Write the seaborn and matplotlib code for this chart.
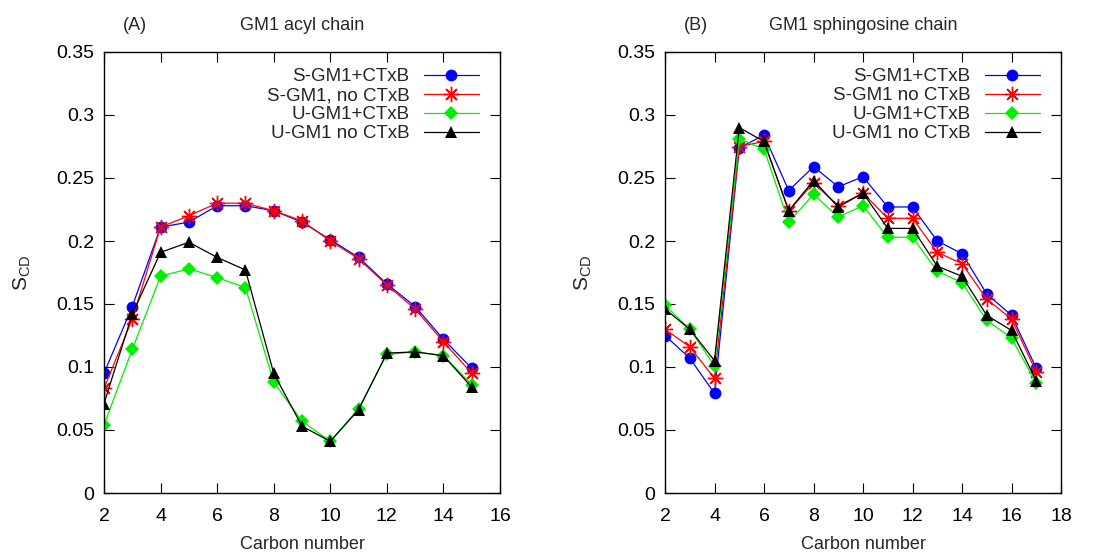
import numpy as np
import pandas as pd
import matplotlib
matplotlib.use("Agg")
import matplotlib.pyplot as plt
import seaborn as sns
from matplotlib.ticker import MultipleLocator, FuncFormatter

sns.set_theme(style="ticks")
plt.rcParams['font.family'] = ['Liberation Sans', 'DejaVu Sans']
plt.rcParams['mathtext.fontset'] = 'custom'
plt.rcParams['mathtext.rm'] = 'Liberation Sans'
plt.rcParams['mathtext.it'] = 'Liberation Sans'

# Panel A: GM1 acyl chain
acyl_carbon = [2, 3, 4, 5, 6, 7, 8, 9, 10, 11, 12, 13, 14, 15]
acyl_s_ctxb = [0.095, 0.148, 0.211, 0.215, 0.228, 0.228, 0.224, 0.215, 0.201, 0.187, 0.166, 0.148, 0.122, 0.099]
acyl_s_free = [0.083, 0.138, 0.211, 0.220, 0.230, 0.230, 0.224, 0.216, 0.200, 0.186, 0.165, 0.146, 0.120, 0.095]
acyl_u_ctxb = [0.054, 0.114, 0.172, 0.178, 0.171, 0.163, 0.088, 0.057, 0.041, 0.067, 0.110, 0.112, 0.109, 0.086]
acyl_u_free = [0.071, 0.142, 0.191, 0.199, 0.187, 0.177, 0.095, 0.053, 0.041, 0.066, 0.111, 0.112, 0.109, 0.084]

# Panel B: GM1 sphingosine chain
sph_carbon = [2, 3, 4, 5, 6, 7, 8, 9, 10, 11, 12, 13, 14, 15, 16, 17]
sph_s_ctxb = [0.125, 0.107, 0.079, 0.274, 0.284, 0.240, 0.259, 0.243, 0.251, 0.227, 0.227, 0.200, 0.190, 0.158, 0.141, 0.099]
sph_s_free = [0.130, 0.116, 0.091, 0.275, 0.279, 0.224, 0.246, 0.228, 0.238, 0.218, 0.218, 0.191, 0.182, 0.154, 0.138, 0.096]
sph_u_ctxb = [0.149, 0.130, 0.101, 0.281, 0.273, 0.215, 0.237, 0.219, 0.228, 0.203, 0.203, 0.176, 0.167, 0.137, 0.123, 0.087]
sph_u_free = [0.146, 0.130, 0.105, 0.290, 0.279, 0.224, 0.248, 0.227, 0.238, 0.210, 0.210, 0.180, 0.172, 0.141, 0.129, 0.089]

labels_a = ["S-GM1+CTxB", "S-GM1, no CTxB", "U-GM1+CTxB", "U-GM1 no CTxB"]
labels_b = ["S-GM1+CTxB", "S-GM1 no CTxB", "U-GM1+CTxB", "U-GM1 no CTxB"]

styles = [
    dict(color="#0000ff", marker="o", markersize=8.5, markeredgewidth=0),
    dict(color="#ff0000", marker=(8, 2, 0), markersize=11, markeredgewidth=1.0),
    dict(color="#00ee00", marker="D", markersize=7, markeredgewidth=0),
    dict(color="#000000", marker="^", markersize=8.5, markeredgewidth=0),
]

panels = [
    ("(A)", "GM1 acyl chain", acyl_carbon, [acyl_s_ctxb, acyl_s_free, acyl_u_ctxb, acyl_u_free], labels_a, 16),
    ("(B)", "GM1 sphingosine chain", sph_carbon, [sph_s_ctxb, sph_s_free, sph_u_ctxb, sph_u_free], labels_b, 18),
]

fig = plt.figure(figsize=(11.06, 5.52), dpi=100)
lefts = [104 / 1106, 665 / 1106]
w = 396 / 1106
b = 1 - 493 / 552
h = 441 / 552

for i, (tag, title, xs, series, labels, xmax) in enumerate(panels):
    ax = fig.add_axes([lefts[i], b, w, h])
    for ys, lab, st in zip(series, labels, styles):
        df = pd.DataFrame({"carbon": xs, "scd": ys})
        sns.lineplot(data=df, x="carbon", y="scd", ax=ax, label=lab,
                     linewidth=0.9, markeredgecolor=st["color"], **st)
    ax.set_xlim(2, xmax)
    ax.set_ylim(0, 0.35)
    ax.xaxis.set_major_locator(MultipleLocator(2))
    ax.yaxis.set_major_locator(MultipleLocator(0.05))
    ax.yaxis.set_major_formatter(FuncFormatter(lambda v, p: f"{v:g}"))
    ax.tick_params(direction="in", length=7, width=0.8, top=True, right=True,
                   labelsize=14, colors="black")
    ax.tick_params(axis="x", pad=11)
    ax.tick_params(axis="y", pad=7)
    for sp in ax.spines.values():
        sp.set_linewidth(1.0)
        sp.set_color("black")
    ax.set_xlabel("Carbon number", fontsize=13, labelpad=8)
    ax.set_ylabel(r"S$_{\mathrm{CD}}$", fontsize=15)
    ax.yaxis.set_label_coords(-0.18, 0.5)
    ax.text(0.5, 1.06, title, transform=ax.transAxes, ha="center", va="center", fontsize=13)
    ax.text(0.078, 1.06, tag, transform=ax.transAxes, ha="center", va="center", fontsize=13)
    ax.legend(loc="upper right", frameon=False, markerfirst=False, fontsize=13.5,
              handlelength=2.9, labelspacing=0.1, handletextpad=0.8,
              bbox_to_anchor=(0.965, 0.98), borderaxespad=0)

fig.savefig("out.png", dpi=100)
